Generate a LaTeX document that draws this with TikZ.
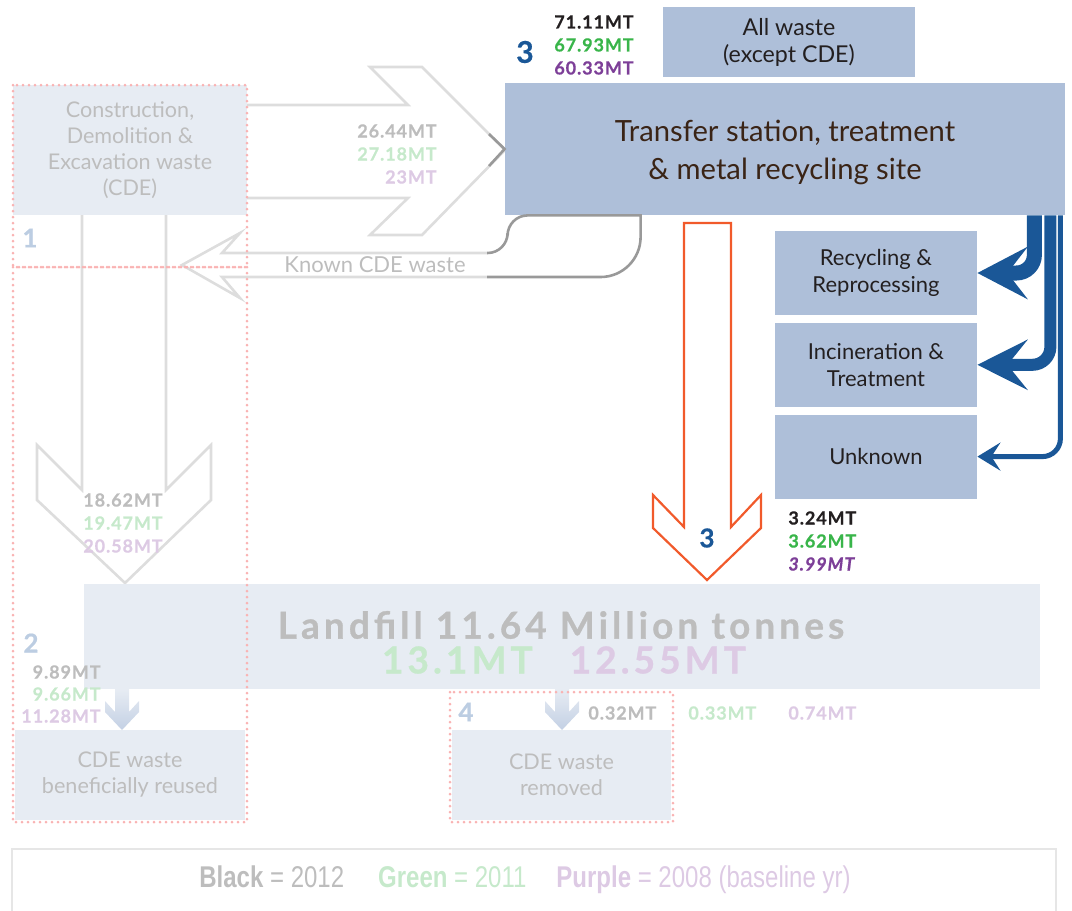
\documentclass[tikz,border=0pt]{standalone}
\usepackage{fontspec}
\setmainfont{Lato}
\newfontfamily\legendfont[FakeStretch=0.8]{Liberation Sans}
\usetikzlibrary{arrows.meta,calc,positioning}
\definecolor{CdeBox}{HTML}{AEBFD9}
\definecolor{CdeInk}{HTML}{231F20}
\definecolor{CdeBrown}{HTML}{3A2416}
\definecolor{CdeFadeBox}{HTML}{E7ECF3}
\definecolor{CdeFadeText}{HTML}{BDBDBD}
\definecolor{CdeFadeGreen}{HTML}{C6E9CB}
\definecolor{CdeFadePurple}{HTML}{DDCAE4}
\definecolor{CdeFadeBlue}{HTML}{BCCDE2}
\definecolor{CdeDots}{HTML}{F9B3B3}
\definecolor{CdeArrowGrey}{HTML}{DDDDDD}
\definecolor{CdeLineGrey}{HTML}{999999}
\definecolor{CdeOrange}{HTML}{F15A2B}
\definecolor{CdeNavy}{HTML}{1A5797}
\definecolor{CdeGreen}{HTML}{39B54A}
\definecolor{CdePurple}{HTML}{7D3F98}
\definecolor{CdeSmallArrow}{HTML}{C3D0E4}
\definecolor{CdeLegendLine}{HTML}{E6E6E6}
\tikzset{
  cde site/.style={
    fill=CdeBox,
    text=CdeInk,
    align=center,
    inner sep=0pt,
    font=\fontsize{11}{13.5}\selectfont
  },
  cde faded/.style={
    fill=CdeFadeBox,
    text=CdeFadeText,
    align=center,
    inner sep=0pt,
    font=\fontsize{10.8}{13}\selectfont
  },
  cde group/.style={draw=CdeDots,line width=1.5pt,dash pattern=on 0pt off 3pt,line cap=round},
  cde hollow/.style={draw=CdeArrowGrey,line width=1.3pt},
  cde return/.style={draw=CdeLineGrey,line width=1.3pt},
  cde landfill flow/.style={draw=CdeOrange,line width=1.1pt,line join=miter},
  cde out flow/.style={draw=CdeNavy,rounded corners=9pt},
  cde small flow/.style={top color=CdeFadeBox,bottom color=CdeSmallArrow,draw=none},
  cde tonnes/.style={
    font=\bfseries\fontsize{9}{11.5}\selectfont\addfontfeature{LetterSpace=5,FakeBold=0.6},
    inner sep=0pt
  },
  cde landfill label/.style={
    inner sep=0pt,
    font=\bfseries\fontsize{18.5}{18.5}\selectfont\addfontfeature{LetterSpace=11,FakeBold=0.8}
  },
  cde step no/.style={font=\bfseries\fontsize{13}{13}\selectfont\addfontfeature{FakeBold=0.6},inner sep=0pt}
}

\begin{document}
\begin{tikzpicture}[x=0.5pt,y=-0.5pt,node distance=3.5pt]
  \useasboundingbox (0,0) rectangle (1072,911);

  \draw[cde hollow] (247,105) -- (408,105) -- (370,67) -- (422,67) -- (505,150) -- (422,235) -- (370,235) -- (408,198) -- (247,198);
  \draw[cde hollow] (82,215) -- (82,490) -- (37,445) -- (37,500) -- (125,583) -- (211,500) -- (211,445) -- (166,490) -- (166,215);
  \draw[cde hollow] (487,253) -- (222,253) -- (240,233) -- (182,265) -- (240,298) -- (222,277) -- (487,277);

  \node[cde site,minimum width=280pt,minimum height=66pt] (transfer) at (785,149) {};
  \node[text=CdeBrown,font=\fontsize{14.6}{19}\selectfont,align=center,inner sep=0pt] (transfertext) at ($(transfer)+(0,3)$) {Transfer station, treatment\\\& metal recycling site};
  \node[cde site,minimum width=126pt,minimum height=35pt,font=\fontsize{11.6}{13.5}\selectfont] (allwaste) at (789,42) {All waste\\(except CDE)};
  \node[cde site,minimum width=101pt,minimum height=42pt] (recycle) at (876,273) {Recycling \&\\Reprocessing};
  \node[cde site,minimum width=101pt,minimum height=42pt,below=of recycle] (incin) {Incineration \&\\Treatment};
  \node[cde site,minimum width=101pt,minimum height=42pt,below=of incin] (unknown) {Unknown};

  \node[cde faded,minimum width=117pt,minimum height=65pt] (cde) at (130,150) {Construction,\\Demolition \&\\Excavation waste\\(CDE)};
  \node[cde faded,minimum width=478pt,minimum height=52.5pt] (landfill) at (562,636.5) {};
  \node[cde landfill label,text=CdeFadeText] (landfilltext) at (561,625) {Landfill 11.64 Million tonnes};
  \node[cde landfill label] (landfillyears) at (564,660) {{\color{CdeFadeGreen}13.1MT}\quad{\color{CdeFadePurple}12.55MT}};
  \node[cde faded,minimum width=115pt,minimum height=45pt] (reused) at (130,775) {CDE waste\\beneficially reused};
  \node[cde faded,minimum width=109.5pt,minimum height=45pt] (removed) at (561.5,775) {CDE waste\\removed};

  \draw[cde return] (487,253) [rounded corners=10pt] -| ($(transfer.south west)+(3,0)$) [sharp corners] -- ($(transfer.south west)+(136,0)$) [rounded corners=20pt] |- (487,277);
  \draw[cde return] (489,134) -- (transfer.west) -- (489,166);
  \node[text=CdeFadeText,font=\fontsize{11}{11}\selectfont,inner sep=0pt] (known) at (375,265) {Known CDE waste};

  \draw[cde landfill flow] (684,223) -- (684,527) -- (653,495) -- (653,528) -- (707,580) -- (761,528) -- (761,495) -- (731,527) -- (731,223) -- cycle;

  \draw[cde out flow,line width=7.5pt,-{Stealth[length=25pt,width=26pt,inset=10pt]}] ($(transfer.south east)+(-31,0)$) |- (recycle.east);
  \draw[cde out flow,line width=6pt,-{Stealth[length=25pt,width=25pt,inset=10pt]}] ($(transfer.south east)+(-15,0)$) |- (incin.east);
  \draw[cde out flow,line width=2.5pt,-{Stealth[length=11.5pt,width=14pt,inset=4.5pt]}] ($(transfer.south east)+(-5,0)$) |- (unknown.east);

  \path[cde small flow,shift={(122,0)}] (-7,689) -- (7,689) -- (7,712) -- (17,701) -- (17,712) -- (0,730) -- (-17,712) -- (-17,701) -- (-7,712) -- cycle;
  \path[cde small flow,shift={(562,0)}] (-7,689) -- (7,689) -- (7,712) -- (17,701) -- (17,712) -- (0,730) -- (-17,712) -- (-17,701) -- (-7,712) -- cycle;

  \node[cde step no,text=CdeNavy,font=\bfseries\fontsize{15}{15}\selectfont\addfontfeature{FakeBold=0.6}] (step3top) at (525,52) {3};
  \node[cde tonnes,align=right,anchor=east] (alltonnes) at (634,45) {\color{CdeInk}71.11MT\\\color{CdeGreen}67.93MT\\\color{CdePurple}60.33MT};
  \node[cde tonnes,align=right,anchor=east] (cdetonnes) at (437,154) {\color{CdeFadeText}26.44MT\\\color{CdeFadeGreen}27.18MT\\\color{CdeFadePurple}23MT};
  \node[cde tonnes,align=right,anchor=east] (downtonnes) at (163,523) {\color{CdeFadeText}18.62MT\\\color{CdeFadeGreen}19.47MT\\\color{CdeFadePurple}20.58MT};
  \node[cde step no,text=CdeNavy] (step3mid) at (707,538) {3};
  \node[cde tonnes,align=left,anchor=west] (filltonnes) at (788,541) {\color{CdeInk}3.24MT\\\color{CdeGreen}3.62MT\\\color{CdePurple}\itshape 3.99MT};
  \node[cde step no,text=CdeFadeBlue] (step1) at (30,238) {1};
  \node[cde step no,text=CdeFadeBlue] (step2) at (31,643) {2};
  \node[cde tonnes,align=right,anchor=east,font=\bfseries\fontsize{9}{11}\selectfont\addfontfeature{LetterSpace=5,FakeBold=0.6}] (reusetonnes) at (101,694) {\color{CdeFadeText}9.89MT\\\color{CdeFadeGreen}9.66MT\\\color{CdeFadePurple}11.28MT};
  \node[cde step no,text=CdeFadeBlue] (step4) at (466,712) {4};
  \node[cde tonnes,anchor=west,text=CdeFadeText] (remove12) at (588,713) {0.32MT};
  \node[cde tonnes,anchor=west,text=CdeFadeGreen] (remove11) at (688,713) {0.33MT};
  \node[cde tonnes,anchor=west,text=CdeFadePurple] (remove08) at (788,713) {0.74MT};

  \draw[cde group] (13,85) rectangle (247,267);
  \draw[cde group] (13,267) rectangle (247,822);
  \draw[cde group] (450,692) rectangle (673,822);

  \draw[draw=CdeLegendLine,line width=1pt] (12,849) rectangle (1056,930);
  \node[font=\legendfont\fontsize{15}{15}\selectfont,inner sep=0pt] (legend) at (525,880) {{\bfseries\color{CdeFadeText}Black} {\color{CdeFadeText}= 2012}\hspace{17pt}{\bfseries\color{CdeFadeGreen}Green} {\color{CdeFadeGreen}= 2011}\hspace{15pt}{\bfseries\color{CdeFadePurple}Purple} {\color{CdeFadePurple}= 2008 (baseline yr)}};
\end{tikzpicture}
\end{document}
